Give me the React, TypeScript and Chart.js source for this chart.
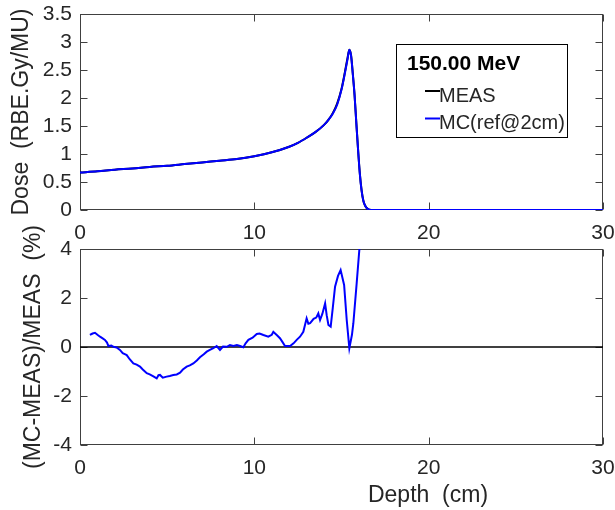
import React, { useEffect, useRef } from 'react';
import { Chart, registerables } from 'chart.js';

Chart.register(...registerables);

// ---------- data ----------
const doseDepth = [0, 1, 2, 3, 4, 5, 6, 7, 8, 9, 10, 11, 12, 12.5, 13, 13.5, 14, 14.25, 14.5, 14.75, 15, 15.2, 15.35, 15.45, 15.55, 15.65, 15.75, 15.85, 15.95, 16.05, 16.15, 16.25, 16.35, 16.5, 16.7, 17, 18, 20, 25, 30];
const measDose = [0.67, 0.69, 0.72, 0.74, 0.77, 0.79, 0.82, 0.85, 0.88, 0.91, 0.96, 1.03, 1.13, 1.2, 1.29, 1.39, 1.52, 1.61, 1.73, 1.9, 2.16, 2.47, 2.72, 2.86, 2.76, 2.43, 2.05, 1.56, 1.08, 0.66, 0.36, 0.17, 0.08, 0.02, 0, 0, 0, 0, 0, 0];
const mcDose = [0.67, 0.69, 0.72, 0.74, 0.77, 0.79, 0.82, 0.85, 0.88, 0.91, 0.96, 1.03, 1.13, 1.2, 1.29, 1.39, 1.52, 1.61, 1.72, 1.88, 2.15, 2.45, 2.7, 2.86, 2.75, 2.42, 2.05, 1.55, 1.08, 0.65, 0.35, 0.17, 0.08, 0.02, 0, 0, 0, 0, 0, 0];

const diffDepth = [0.57, 0.72, 0.86, 1.0, 1.15, 1.3, 1.43, 1.55, 1.63, 1.8, 1.91, 2.1, 2.29, 2.45, 2.6, 2.68, 2.85, 3.06, 3.25, 3.44, 3.6, 3.83, 4.0, 4.21, 4.4, 4.5, 4.59, 4.75, 4.97, 5.15, 5.35, 5.55, 5.74, 5.9, 6.12, 6.3, 6.5, 6.7, 6.88, 7.1, 7.27, 7.45, 7.65, 7.84, 8.03, 8.2, 8.42, 8.6, 8.8, 9.0, 9.18, 9.37, 9.5, 9.66, 9.9, 10.14, 10.3, 10.52, 10.8, 11.0, 11.09, 11.3, 11.47, 11.6, 11.76, 12.05, 12.25, 12.43, 12.62, 12.81, 13.0, 13.1, 13.2, 13.4, 13.55, 13.67, 13.77, 13.9, 14.06, 14.15, 14.25, 14.38, 14.5, 14.63, 14.8, 14.95, 15.15, 15.3, 15.45, 15.6, 15.68, 15.87, 16.03, 16.1];
const diffValue = [0.49, 0.55, 0.58, 0.5, 0.42, 0.35, 0.29, 0.18, 0.04, 0.06, 0.01, -0.02, -0.12, -0.25, -0.3, -0.33, -0.5, -0.67, -0.72, -0.8, -0.92, -1.07, -1.12, -1.2, -1.28, -1.15, -1.14, -1.25, -1.21, -1.18, -1.14, -1.12, -1.05, -0.92, -0.8, -0.75, -0.67, -0.55, -0.42, -0.3, -0.19, -0.12, -0.05, 0.04, -0.12, 0.02, 0.01, 0.08, 0.04, 0.08, 0.04, -0.01, 0.15, 0.29, 0.38, 0.53, 0.55, 0.49, 0.42, 0.5, 0.62, 0.48, 0.36, 0.22, 0.04, 0.04, 0.15, 0.29, 0.42, 0.62, 1.17, 0.95, 0.97, 1.15, 1.2, 1.37, 1.1, 1.35, 1.78, 1.3, 0.9, 0.83, 1.6, 2.46, 2.9, 3.14, 2.53, 1.1, -0.05, 0.5, 0.97, 2.6, 4.03, 4.8];

const zeroDepth = [0, 30];
const zeroValue = [0, 0];

const xTicks = [0, 10, 20, 30];
const doseTicks = [0, 0.5, 1, 1.5, 2, 2.5, 3, 3.5];
const diffTicks = [-4, -2, 0, 2, 4];

const legendTitle = '150.00 MeV';
const seriesNames = ['MEAS', 'MC(ref@2cm)'];
const doseAxisTitle = 'Dose  (RBE.Gy/MU)';
const diffAxisTitle = '(MC-MEAS)/MEAS  (%)';
const depthAxisTitle = 'Depth  (cm)';

// ---------- styling ----------
const FONT = "'Liberation Sans', Arial, Helvetica, sans-serif";
const TXT = '#262626';
const AXIS = '#404040';
const TICK_LEN = 7;

const pts = (xs: number[], ys: number[]) => xs.map((x, i) => ({ x, y: ys[i] }));

const boxPlugin = {
  id: 'matlabBox',
  beforeDatasetsDraw(chart: any) {
    const { ctx, chartArea, scales } = chart;
    const L = Math.round(chartArea.left) + 0.5;
    const R = Math.round(chartArea.right) - 0.5;
    const T = Math.round(chartArea.top) + 0.5;
    const B = Math.round(chartArea.bottom) - 0.5;
    ctx.save();
    ctx.strokeStyle = AXIS;
    ctx.lineWidth = 1;
    ctx.beginPath();
    scales.x.ticks.forEach((t: any) => {
      const px = Math.round(scales.x.getPixelForValue(t.value)) + 0.5;
      ctx.moveTo(px, B);
      ctx.lineTo(px, B - TICK_LEN);
      ctx.moveTo(px, T);
      ctx.lineTo(px, T + TICK_LEN);
    });
    scales.y.ticks.forEach((t: any) => {
      const py = Math.round(scales.y.getPixelForValue(t.value)) + 0.5;
      ctx.moveTo(L, py);
      ctx.lineTo(L + TICK_LEN, py);
      ctx.moveTo(R, py);
      ctx.lineTo(R - TICK_LEN, py);
    });
    ctx.stroke();
    ctx.strokeRect(L, T, R - L, B - T);
    ctx.restore();
  },
};

const legendPlugin = {
  id: 'matlabLegend',
  afterDraw(chart: any) {
    const { ctx, chartArea } = chart;
    const x0 = chartArea.left + 316;
    const y0 = chartArea.top + 30;
    const w = 171;
    const h = 93;
    ctx.save();
    ctx.fillStyle = '#ffffff';
    ctx.fillRect(x0, y0, w, h);
    ctx.strokeStyle = '#000000';
    ctx.lineWidth = 1;
    ctx.strokeRect(Math.round(x0) + 0.5, Math.round(y0) + 0.5, w, h);
    ctx.fillStyle = '#000000';
    ctx.textBaseline = 'alphabetic';
    ctx.textAlign = 'left';
    ctx.font = `bold 21px ${FONT}`;
    ctx.fillText(legendTitle, x0 + 11, y0 + 25.5);
    const ds = chart.data.datasets;
    const rows = [
      { line: y0 + 47, base: y0 + 58 },
      { line: y0 + 74.5, base: y0 + 85 },
    ];
    ctx.font = `20px ${FONT}`;
    rows.forEach((r, i) => {
      ctx.strokeStyle = ds[i].borderColor;
      ctx.lineWidth = 2;
      ctx.beginPath();
      ctx.moveTo(x0 + 29, r.line);
      ctx.lineTo(x0 + 44, r.line);
      ctx.stroke();
      ctx.fillStyle = TXT;
      ctx.fillText(ds[i].label, x0 + 43, r.base);
    });
    ctx.restore();
  },
};

const depthTitlePlugin = {
  id: 'depthTitle',
  afterDraw(chart: any) {
    const { ctx, chartArea } = chart;
    ctx.save();
    ctx.font = `23px ${FONT}`;
    ctx.fillStyle = TXT;
    ctx.textAlign = 'center';
    ctx.textBaseline = 'alphabetic';
    ctx.fillText(depthAxisTitle, chartArea.left + 348, chartArea.bottom + 56.5);
    ctx.restore();
  },
};

const tickFont = { family: FONT, size: 21 };
const titleFont = { family: FONT, size: 23 };
const fmt = (v: any) => `${v}`;

function xScale(height: number) {
  return {
    type: 'linear',
    min: 0,
    max: 30,
    afterBuildTicks: (s: any) => {
      s.ticks = xTicks.map((v) => ({ value: v }));
    },
    afterFit: (s: any) => {
      s.height = height;
      s.paddingLeft = 0;
      s.paddingRight = 0;
      s.paddingTop = 0;
      s.paddingBottom = 0;
    },
    grid: { display: false, drawTicks: false },
    border: { display: false },
    ticks: { color: TXT, font: tickFont, padding: 11, maxRotation: 0, autoSkip: false, callback: fmt },
    title: { display: false },
  };
}

function yScale(min: number, max: number, ticks: number[], title: string, titlePad: number) {
  return {
    type: 'linear',
    min,
    max,
    afterBuildTicks: (s: any) => {
      s.ticks = ticks.map((v) => ({ value: v }));
    },
    afterFit: (s: any) => {
      s.width = 80;
      s.paddingLeft = 0;
      s.paddingRight = 0;
      s.paddingTop = 0;
      s.paddingBottom = 0;
    },
    grid: { display: false, drawTicks: false },
    border: { display: false },
    ticks: { color: TXT, font: tickFont, padding: 8, autoSkip: false, callback: fmt },
    title: { display: true, text: title, color: TXT, font: titleFont, padding: { top: titlePad, bottom: 0 } },
  };
}

export default function App() {
  const topRef = useRef<HTMLCanvasElement>(null);
  const botRef = useRef<HTMLCanvasElement>(null);

  useEffect(() => {
    document.body.style.margin = '0';
    const top = new Chart(topRef.current as HTMLCanvasElement, {
      type: 'line',
      data: {
        datasets: [
          {
            label: seriesNames[0],
            data: pts(doseDepth, measDose),
            borderColor: '#000000',
            borderWidth: 2,
            pointRadius: 0,
            cubicInterpolationMode: 'monotone',
            order: 1,
          },
          {
            label: seriesNames[1],
            data: pts(doseDepth, mcDose),
            borderColor: '#0000ff',
            borderWidth: 2,
            pointRadius: 0,
            cubicInterpolationMode: 'monotone',
            order: 0,
          },
        ],
      },
      options: {
        responsive: false,
        animation: false,
        layout: { padding: { left: 0, top: 14, right: 12, bottom: 0 } },
        plugins: { legend: { display: false }, tooltip: { enabled: false } },
        scales: {
          x: xScale(40) as any,
          y: yScale(0, 3.5, doseTicks, doseAxisTitle, 8) as any,
        },
      },
      plugins: [boxPlugin, legendPlugin],
    } as any);

    const bot = new Chart(botRef.current as HTMLCanvasElement, {
      type: 'line',
      data: {
        datasets: [
          {
            label: 'zero',
            data: pts(zeroDepth, zeroValue),
            borderColor: '#000000',
            borderWidth: 1.4,
            pointRadius: 0,
            order: 1,
          },
          {
            label: 'diff',
            data: pts(diffDepth, diffValue),
            borderColor: '#0000ff',
            borderWidth: 2,
            pointRadius: 0,
            order: 0,
          },
        ],
      },
      options: {
        responsive: false,
        animation: false,
        layout: { padding: { left: 0, top: 34, right: 12, bottom: 0 } },
        plugins: { legend: { display: false }, tooltip: { enabled: false } },
        scales: {
          x: xScale(65) as any,
          y: yScale(-4, 4, diffTicks, diffAxisTitle, 19.5) as any,
        },
      },
      plugins: [boxPlugin, depthTitlePlugin],
    } as any);

    return () => {
      top.destroy();
      bot.destroy();
    };
  }, []);

  return (
    <div style={{ position: 'absolute', left: 0, top: 0, width: 615, height: 510, background: '#ffffff' }}>
      <canvas ref={botRef} width={615} height={295} style={{ position: 'absolute', left: 0, top: 215 }} />
      <canvas ref={topRef} width={615} height={250} style={{ position: 'absolute', left: 0, top: 0 }} />
    </div>
  );
}
